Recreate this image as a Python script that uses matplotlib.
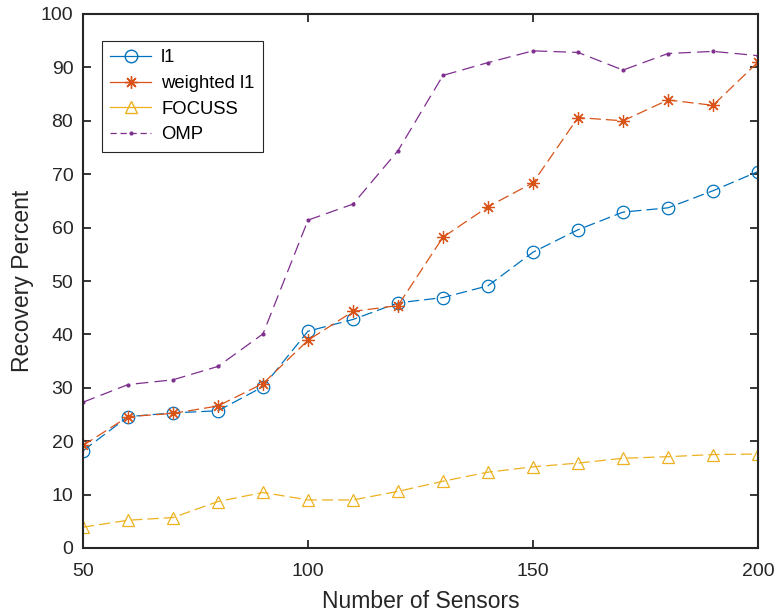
import matplotlib
matplotlib.use("Agg")
import matplotlib.pyplot as plt
from matplotlib.lines import Line2D

plt.rcParams['font.family'] = ['Liberation Sans', 'DejaVu Sans']

sensors = [50, 60, 70, 80, 90, 100, 110, 120, 130, 140, 150, 160, 170, 180, 190, 200]
l1 = [18.2, 24.6, 25.3, 25.7, 30.2, 40.6, 42.8, 45.9, 46.9, 49.1, 55.4, 59.6, 62.9, 63.7, 66.9, 70.5]
weighted_l1 = [19.2, 24.6, 25.2, 26.6, 30.8, 38.9, 44.3, 45.4, 58.2, 63.9, 68.4, 80.6, 80.0, 83.9, 82.9, 91.0]
focuss = [3.9, 5.2, 5.7, 8.7, 10.4, 9.0, 9.0, 10.6, 12.5, 14.2, 15.2, 15.9, 16.8, 17.1, 17.5, 17.6]
omp = [27.3, 30.6, 31.5, 34.0, 40.1, 61.4, 64.4, 74.4, 88.5, 90.9, 93.1, 92.8, 89.5, 92.6, 93.0, 92.2]

labels = ['l1', 'weighted l1', 'FOCUSS', 'OMP']
colors = ['#0072BD', '#D95319', '#EDB120', '#7E2F8E']
star = (8, 2, 0)

fig = plt.figure(figsize=(7.75, 6.13), dpi=100)
ax = fig.add_axes([83/775, 65/613, 675/775, 534/613])

dash = (0, (9, 4))
lw = 0.9
ax.plot(sensors, l1, color=colors[0], lw=lw, ls=dash, marker='o', ms=9,
        mfc='none', mew=0.9)
ax.plot(sensors, weighted_l1, color=colors[1], lw=lw, ls=dash, marker=star, ms=9,
        mfc='none', mew=0.9)
ax.plot(sensors, focuss, color=colors[2], lw=lw, ls=dash, marker='^', ms=9,
        mfc='none', mew=0.9)
ax.plot(sensors, omp, color=colors[3], lw=lw, ls=(0, (10, 5)), marker='.', ms=4)

ax.set_xlim(50, 200)
ax.set_ylim(0, 100)
ax.set_xticks([50, 100, 150, 200])
ax.set_yticks(range(0, 101, 10))
ax.tick_params(direction='in', length=6, width=1.3, labelsize=14, colors='#262626',
               top=True, right=True, pad=7)
ax.tick_params(axis='x', pad=11)
for s in ax.spines.values():
    s.set_linewidth(1.5)
    s.set_color('#262626')

ax.set_xlabel('Number of Sensors', fontsize=16.5, color='#262626', labelpad=7)
ax.set_ylabel('Recovery Percent', fontsize=16.5, color='#262626', labelpad=5)

handles = [
    Line2D([], [], color=colors[0], lw=lw, marker='o', ms=9, mfc='none'),
    Line2D([], [], color=colors[1], lw=lw, marker=star, ms=9, mfc='none'),
    Line2D([], [], color=colors[2], lw=lw, marker='^', ms=9, mfc='none'),
    Line2D([], [], color=colors[3], lw=lw, ls=(0, (5, 3)), marker='.', ms=4),
]
leg = ax.legend(handles, labels, loc='upper left', bbox_to_anchor=(102/775, 1 - 41/613),
                bbox_transform=fig.transFigure, fontsize=13.3, fancybox=False,
                framealpha=1, edgecolor='#262626', borderaxespad=0, handlelength=2.2,
                borderpad=0.45, labelspacing=0.47, handletextpad=0.55)
leg.get_frame().set_linewidth(0.8)

fig.savefig('out.png', dpi=100)
